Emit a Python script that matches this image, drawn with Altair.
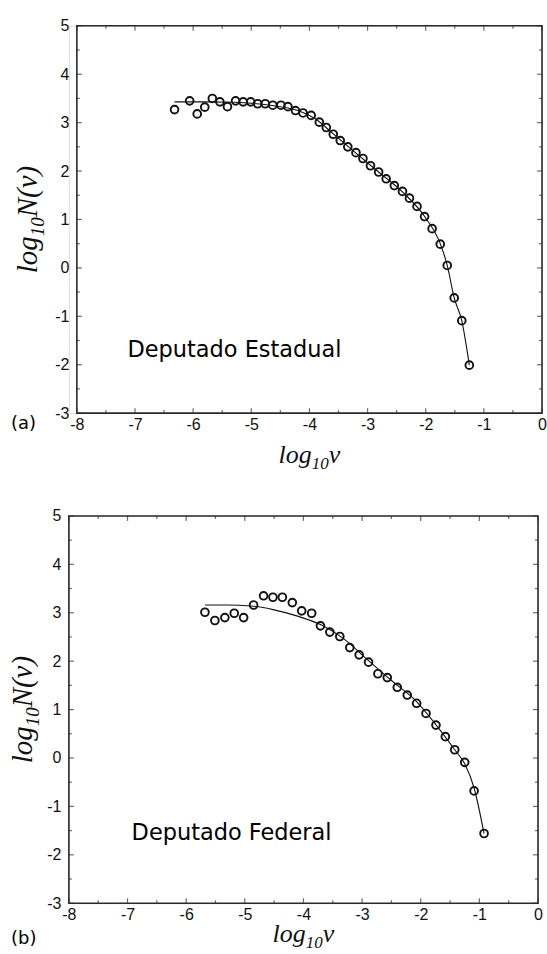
import altair as alt
import pandas as pd

# ---- data: log10 N(v) versus log10 v ----
# (a) Deputado Estadual
est_x = [-6.32, -6.06, -5.93, -5.80, -5.67, -5.54, -5.41, -5.27, -5.14, -5.01,
         -4.89, -4.76, -4.63, -4.49, -4.37, -4.24, -4.11, -3.97, -3.83, -3.71,
         -3.59, -3.47, -3.34, -3.20, -3.08, -2.95, -2.81, -2.68, -2.54, -2.40,
         -2.28, -2.15, -2.02, -1.89, -1.75, -1.63, -1.51, -1.38, -1.25]
est_y = [3.27, 3.45, 3.18, 3.32, 3.50, 3.43, 3.33, 3.45, 3.43, 3.43,
         3.39, 3.39, 3.36, 3.36, 3.33, 3.25, 3.20, 3.15, 3.01, 2.90,
         2.76, 2.63, 2.50, 2.38, 2.26, 2.11, 1.98, 1.84, 1.70, 1.58,
         1.44, 1.27, 1.06, 0.81, 0.49, 0.05, -0.62, -1.09, -2.01]
est_fit_x = [-6.32, -5.8, -5.3, -4.9, -4.5, -4.2, -3.9, -3.6, -3.2, -2.8,
             -2.4, -2.0, -1.75, -1.63, -1.51, -1.38, -1.25]
est_fit_y = [3.43, 3.43, 3.42, 3.39, 3.33, 3.25, 3.08, 2.78, 2.37, 1.97,
             1.57, 1.03, 0.50, 0.05, -0.62, -1.09, -2.01]

# (b) Deputado Federal
fed_x = [-5.68, -5.51, -5.34, -5.18, -5.02, -4.85, -4.68, -4.52, -4.36, -4.19,
         -4.03, -3.86, -3.71, -3.55, -3.38, -3.21, -3.05, -2.89, -2.73, -2.57,
         -2.40, -2.23, -2.07, -1.91, -1.74, -1.58, -1.42, -1.25, -1.09, -0.92]
fed_y = [3.01, 2.84, 2.90, 2.99, 2.90, 3.16, 3.35, 3.32, 3.32, 3.21,
         3.04, 2.99, 2.73, 2.60, 2.51, 2.28, 2.13, 1.98, 1.74, 1.66,
         1.46, 1.30, 1.13, 0.92, 0.68, 0.44, 0.17, -0.09, -0.68, -1.56]
fed_fit_x = [-5.68, -5.3, -4.9, -4.5, -4.1, -3.7, -3.3, -2.9, -2.5, -2.1,
             -1.75, -1.42, -1.25, -1.09, -0.92]
fed_fit_y = [3.16, 3.16, 3.14, 3.06, 2.93, 2.75, 2.45, 2.02, 1.60, 1.20,
             0.70, 0.17, -0.12, -0.62, -1.56]

panel_names = ["Deputado Estadual", "Deputado Federal"]
panel_tags = ["(a)", "(b)"]

# axis titles, split so that the "10" can be set as a subscript
x_title_parts = ["log", "10", "v"]
y_title_parts = ["log", "10", "N(v)"]

# ---- axes ----
X_DOMAIN = [-8, 0]
Y_DOMAIN = [-3, 5]
X_MAJOR = [-8, -7, -6, -5, -4, -3, -2, -1, 0]
X_MINOR = [-7.5, -6.5, -5.5, -4.5, -3.5, -2.5, -1.5, -0.5]
Y_MAJOR = [-3, -2, -1, 0, 1, 2, 3, 4, 5]
Y_MINOR = [-2.5, -1.5, -0.5, 0.5, 1.5, 2.5, 3.5, 4.5]

INK = "#111111"
FRAME = "#2b2b2b"
LABEL_FONT = "Liberation Sans"
TITLE_FONT = "Liberation Serif"
TEXT_FONT = "DejaVu Sans"

# advance widths (em) of the italic serif glyphs used in the titles
ITALIC_EM = {"l": 0.278, "o": 0.5, "g": 0.5, "1": 0.5, "0": 0.5, "v": 0.444,
             "N": 0.667, "(": 0.333, ")": 0.333}


def text_width(s, size):
    return sum(ITALIC_EM[c] for c in s) * size


def title_marks(parts, sizes, shifts, center, across, vertical):
    """Italic title pieces laid end to end, centred on `center`."""
    total = sum(text_width(p, s) for p, s in zip(parts, sizes))
    pos = center + total / 2 if vertical else center - total / 2
    marks = []
    for text, size, shift in zip(parts, sizes, shifts):
        if vertical:
            x, y, angle = across + shift, pos, 270
            pos -= text_width(text, size)
        else:
            x, y, angle = pos, across + shift, 0
            pos += text_width(text, size)
        marks.append(
            alt.Chart(pd.DataFrame({"t": [text]})).mark_text(
                align="left", baseline="alphabetic", angle=angle, font=TITLE_FONT,
                fontStyle="italic", fontSize=size, color=INK,
            ).encode(text="t:N", x=alt.value(x), y=alt.value(y))
        )
    return marks


def inward_ticks(xs, ys):
    """Major and minor ticks pointing into the frame on all four sides."""
    layers = []
    for vals, size in ((X_MAJOR, 5), (X_MINOR, 3)):
        df = pd.DataFrame({"x": vals})
        for edge, off in ((Y_DOMAIN[0], -size / 2), (Y_DOMAIN[1], size / 2)):
            layers.append(
                alt.Chart(df).mark_tick(orient="vertical", size=size, thickness=1.2,
                                        yOffset=off, color=FRAME)
                .encode(x=alt.X("x:Q", scale=xs), y=alt.Y(datum=edge, scale=ys))
            )
    for vals, size in ((Y_MAJOR, 5), (Y_MINOR, 3)):
        df = pd.DataFrame({"y": vals})
        for edge, off in ((X_DOMAIN[0], size / 2), (X_DOMAIN[1], -size / 2)):
            layers.append(
                alt.Chart(df).mark_tick(orient="horizontal", size=size, thickness=1.2,
                                        xOffset=off, color=FRAME)
                .encode(y=alt.Y("y:Q", scale=ys), x=alt.X(datum=edge, scale=xs))
            )
    return layers


def panel(px, py, fx, fy, name, tag, width, inset, height, tag_dx, tag_dy,
          text_x, text_y, x_title_base, y_title_base):
    # the x range may start a little inside the view so that the frame sits
    # further right than the panel's left edge
    xs = alt.Scale(domain=X_DOMAIN, range=[inset, width], nice=False, zero=False)
    ys = alt.Scale(domain=Y_DOMAIN, nice=False, zero=False)

    x_axis = alt.Axis(
        values=X_MAJOR, labelExpr="'' + datum.value", ticks=False, tickSize=0,
        domain=False, grid=False, labelFlush=False, title=None,
        labelFont=LABEL_FONT, labelFontSize=16, labelColor=INK, labelPadding=3,
    )
    y_axis = alt.Axis(
        values=Y_MAJOR, labelExpr="'' + datum.value", ticks=False, tickSize=0,
        domain=False, grid=False, labelFlush=False, offset=-inset, title=None,
        labelFont=LABEL_FONT, labelFontSize=16, labelColor=INK, labelPadding=8,
    )

    frame = alt.Chart(pd.DataFrame({"k": [0]})).mark_rect(
        filled=False, stroke=FRAME, strokeWidth=1.6
    ).encode(
        x=alt.X(datum=X_DOMAIN[0], scale=xs, axis=x_axis),
        x2=alt.X2(datum=X_DOMAIN[1]),
        y=alt.Y(datum=Y_DOMAIN[0], scale=ys, axis=y_axis),
        y2=alt.Y2(datum=Y_DOMAIN[1]),
    )
    pts = alt.Chart(pd.DataFrame({"x": px, "y": py})).mark_point(
        shape="circle", filled=False, size=60, strokeWidth=1.9, color=INK, opacity=1
    ).encode(x=alt.X("x:Q", scale=xs), y=alt.Y("y:Q", scale=ys))
    fit = alt.Chart(pd.DataFrame({"x": fx, "y": fy})).mark_line(
        color=INK, strokeWidth=1.1, interpolate="monotone"
    ).encode(x=alt.X("x:Q", scale=xs), y=alt.Y("y:Q", scale=ys))

    label = alt.Chart(pd.DataFrame({"t": [name]})).mark_text(
        align="left", baseline="middle", font=TEXT_FONT, fontSize=22.5, color="#000"
    ).encode(
        text="t:N",
        x=alt.X(datum=text_x, scale=xs),
        y=alt.Y(datum=text_y, scale=ys),
    )
    tag_mark = alt.Chart(pd.DataFrame({"t": [tag]})).mark_text(
        align="left", baseline="middle", font=TEXT_FONT, fontSize=18, color="#000"
    ).encode(
        text="t:N",
        x=alt.value(tag_dx),
        y=alt.value(height + tag_dy),
    )

    x_title = title_marks(x_title_parts, [26, 17, 26], [0, 6, 0],
                          (inset + width) / 2, height + x_title_base, False)
    y_title = title_marks(y_title_parts, [29, 19, 29], [0, 7, 0],
                          height / 2, y_title_base, True)

    return alt.layer(frame, *inward_ticks(xs, ys), fit, pts, label, tag_mark,
                     *x_title, *y_title).properties(width=width, height=height)


top = panel(est_x, est_y, est_fit_x, est_fit_y, panel_names[0], panel_tags[0],
            474, 8, 388, -58, 11, -7.13, -1.70, 50, -32)
bottom = panel(fed_x, fed_y, fed_fit_x, fed_fit_y, panel_names[1], panel_tags[1],
               470, 0, 388, -58, 36, -6.93, -1.54, 39, -37)

chart = alt.vconcat(top, bottom, spacing=34).properties(
    padding={"left": 8, "top": 16, "right": 0, "bottom": 0}
).configure_view(
    stroke=None
).configure(background="white")

chart.save("out.html", embed_options={"renderer": "svg", "actions": False})
